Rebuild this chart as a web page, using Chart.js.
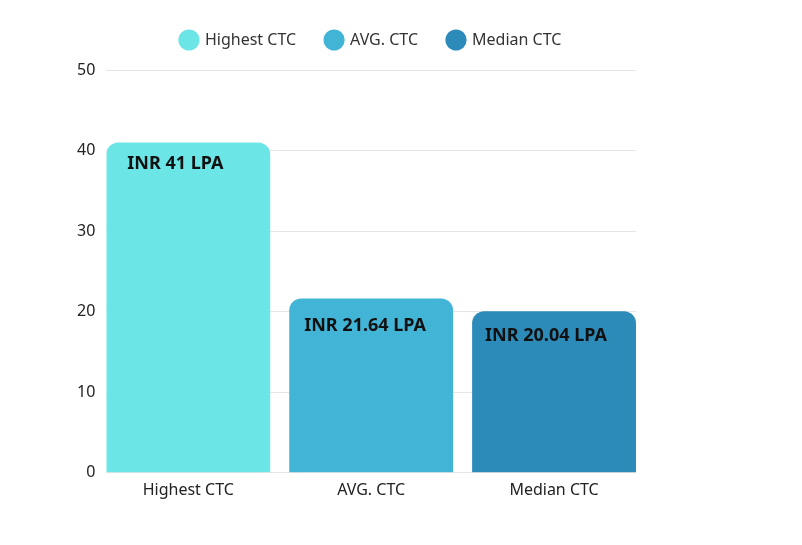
<!DOCTYPE html>
<html>
<head>
<meta charset="utf-8">
<script src="https://cdn.jsdelivr.net/npm/chart.js@4"></script>
<style>
  html, body { margin: 0; padding: 0; background: #fff; }
  #wrap { width: 802px; height: 545px; }
</style>
</head>
<body>
<div id="wrap"><canvas id="ctcChart"></canvas></div>
<script>
// CTC summary - three bars, one per dataset so each gets a legend entry

const categories = ['Highest CTC', 'AVG. CTC', 'Median CTC'];
const ctcValues = [41, 21.64, 20.04];
const barColors = ['#6ce5e6', '#42b5d6', '#2d8bba'];
const yTicks = [0, 10, 20, 30, 40, 50];

// bar label drawn inside the top-left of each bar
const barLabels = {
    id: 'barLabels',
    afterDatasetsDraw(chart) {
        const c = chart.ctx;
        const dx = [21, 15, 13];   // inset from bar's left edge
        const dy = [21, 27, 25];   // inset from bar's top
        c.save();
        c.font = 'bold 18px "Noto Sans"';
        c.fillStyle = '#111';
        c.textAlign = 'left';
        c.textBaseline = 'middle';
        chart.data.datasets.forEach((ds, i) => {
            const bar = chart.getDatasetMeta(i).data[0];
            c.fillText('INR ' + ctcValues[i] + ' LPA', bar.x - bar.width / 2 + dx[i], bar.y + dy[i]);
        });
        c.restore();
    }
};

const ctx = document.getElementById('ctcChart').getContext('2d');
const ctcChart = new Chart(ctx, {
    type: 'bar',
    data: {
        datasets: categories.map((name, i) => ({
            label: name,
            data: [{ x: i, y: ctcValues[i] }],
            backgroundColor: barColors[i],
            borderRadius: 12,
            borderSkipped: 'start'
        }))
    },
    options: {
        responsive: true,
        maintainAspectRatio: false,
        animation: false,
        grouped: false,
        barPercentage: 0.896,
        categoryPercentage: 1,
        layout: {
            padding: { left: 66, right: 166, top: 2, bottom: 45 }
        },
        scales: {
            x: {
                type: 'linear',
                offset: false,
                min: -0.448,
                max: 2.448,
                afterBuildTicks: (axis) => { axis.ticks = categories.map((_, i) => ({ value: i })); },
                ticks: {
                    color: '#222',
                    font: { family: '"Noto Sans"', size: 16 },
                    padding: 0,
                    callback: (v) => categories[v]
                },
                grid: { display: false },
                border: { display: false }
            },
            y: {
                min: 0,
                max: 50,
                afterBuildTicks: (axis) => { axis.ticks = yTicks.map(v => ({ value: v })); },
                ticks: {
                    color: '#222',
                    font: { family: '"Noto Sans"', size: 16 },
                    padding: 11
                },
                grid: { color: '#e6e6e6', drawTicks: false },
                border: { display: false }
            }
        },
        plugins: {
            legend: {
                fullSize: false,
                labels: {
                    usePointStyle: true,
                    pointStyle: 'circle',
                    boxHeight: 15,
                    padding: 30,
                    color: '#333',
                    font: { family: '"Noto Sans"', size: 16 }
                }
            },
            // empty title used only as a spacer between legend and plot
            title: {
                display: true,
                text: '',
                weight: 500,
                padding: 0,
                font: { size: 10 }
            },
            tooltip: { enabled: false }
        }
    },
    plugins: [barLabels]
});
</script>
</body>
</html>
